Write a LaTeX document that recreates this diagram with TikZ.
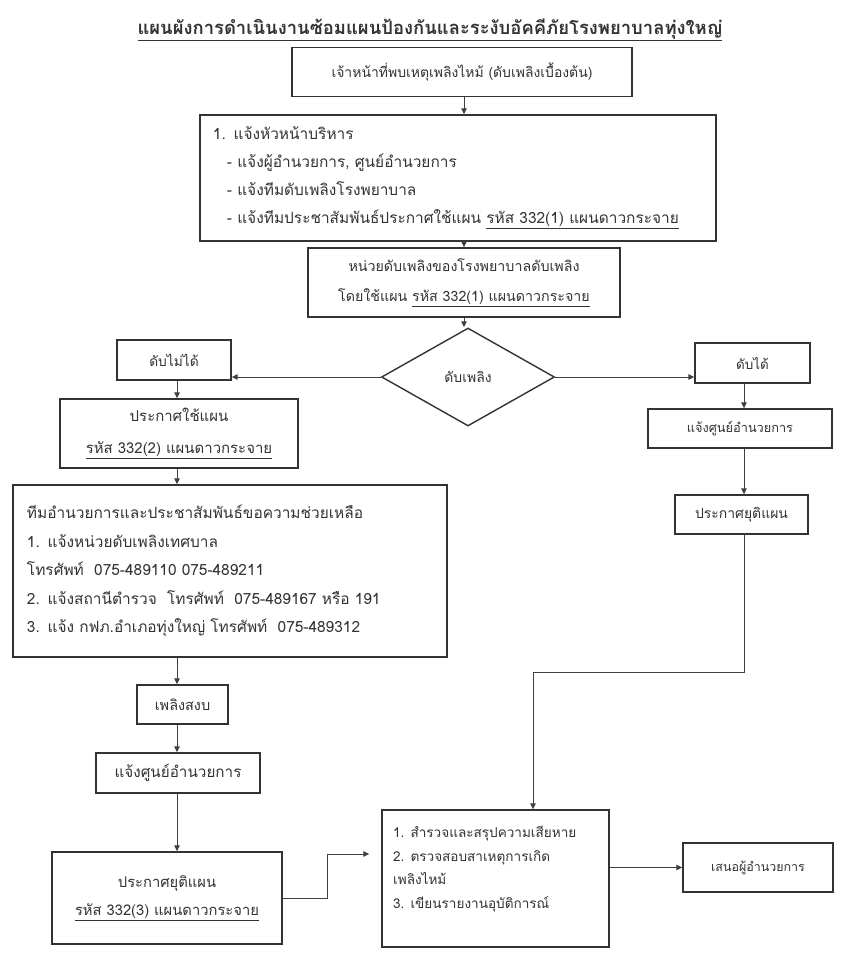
\documentclass[tikz,border=0pt]{standalone}
\usepackage{fontspec}
\newfontfamily\thai[Script=Thai]{Loma}
\usetikzlibrary{arrows.meta,shapes.geometric}
\newcommand{\fs}[2]{\thai\fontsize{#1}{#2}\selectfont}
\begin{document}
\begin{tikzpicture}[x=1bp,y=-1bp,
  box/.style={draw=black!80, line width=1.4bp, inner sep=0pt, text=black!80,
    font=\fs{14}{28}},
  txt/.style={inner sep=0pt, text=black!80},
  arr/.style={draw=black!75, line width=1bp, -{Triangle[width=5.5bp,length=6bp]}},
  ln/.style={draw=black!75, line width=1bp}]
\useasboundingbox (0,0) rectangle (860,963);
\fill[white] (0,0) rectangle (860,963);
\coordinate (cx) at (464,0);
\coordinate (lx) at (177,0);
\coordinate (rx) at (744,0);

\node[txt, font=\thai\bfseries\fontsize{18.5}{22}\selectfont] (title) at (430,30)
  {\underline{แผนผังการดำเนินงานซ้อมแผนป้องกันและระงับอัคคีภัยโรงพยาบาลทุ่งใหญ่}};

\node[box, minimum width=340bp, minimum height=49bp, font=\fs{14}{18}] (b1) at (462,72)
  {เจ้าหน้าที่พบเหตุเพลิงไหม้ (ดับเพลิงเบื้องต้น)};

\node[box, minimum width=516bp, minimum height=126bp, text width=490bp, align=left, font=\fs{15.5}{28}] (b2) at (458,178)
  {\rule{0pt}{6bp}1. แจ้งหัวหน้าบริหาร\\
   \hspace*{14bp}- แจ้งผู้อำนวยการ, ศูนย์อำนวยการ\\
   \hspace*{14bp}- แจ้งทีมดับเพลิงโรงพยาบาล\\
   \hspace*{14bp}- แจ้งทีมประชาสัมพันธ์ประกาศใช้แผน \underline{รหัส 332(1) แผนดาวกระจาย}};

\node[box, minimum width=312bp, minimum height=69bp, align=center, font=\fs{14.3}{30}] (b3) at (464,282.5)
  {หน่วยดับเพลิงของโรงพยาบาลดับเพลิง\\ โดยใช้แผน \underline{รหัส 332(1) แผนดาวกระจาย}};

\node[box, diamond, minimum width=173bp, minimum height=98bp, font=\fs{14}{18}] (dia) at (468,377) {ดับเพลิง};

\node[box, minimum width=114bp, minimum height=40bp, font=\fs{13.8}{18}] (nf) at (174,360) {ดับไม่ได้};
\node[box, minimum width=238bp, minimum height=69bp, align=center, font=\fs{15}{32}] (pu) at (179,433.5)
  {ประกาศใช้แผน\\ \underline{รหัส 332(2) แผนดาวกระจาย}};
\node[box, minimum width=434bp, minimum height=172bp, text width=406bp, align=left, font=\fs{15.5}{28.5}] (big) at (230,571)
  {ทีมอำนวยการและประชาสัมพันธ์ขอความช่วยเหลือ\\
   1. แจ้งหน่วยดับเพลิงเทศบาล\\
   โทรศัพท์~ 075-489110 075-489211\\
   2. แจ้งสถานีตำรวจ~ โทรศัพท์~ 075-489167 หรือ 191\\
   3. แจ้ง กฟภ.อำเภอทุ่งใหญ่ โทรศัพท์~ 075-489312};
\node[box, minimum width=91bp, minimum height=39bp, font=\fs{14.5}{18}] (calm) at (182.5,704.5) {เพลิงสงบ};
\node[box, minimum width=164bp, minimum height=40bp, font=\fs{15.3}{18}] (inf) at (178,773) {แจ้งศูนย์อำนวยการ};
\node[box, minimum width=230bp, minimum height=92bp, align=center, font=\fs{14.8}{28}] (end) at (167,898)
  {ประกาศยุติแผน\\ \underline{รหัส 332(3) แผนดาวกระจาย}};

\node[box, minimum width=115bp, minimum height=40bp, font=\fs{13.5}{18}] (ok) at (752.5,363) {ดับได้};
\node[box, minimum width=184bp, minimum height=39bp, font=\fs{12.8}{18}] (rinf) at (740,428.5) {แจ้งศูนย์อำนวยการ};
\node[box, minimum width=133bp, minimum height=39bp, font=\fs{14}{18}] (rend) at (741.5,514.5) {ประกาศยุติแผน};

\node[box, minimum width=227bp, minimum height=137bp] (sv) at (495.5,878.5) {};
\node[txt, anchor=west, align=left, font=\fs{13.6}{24}] (svt) at (393,869)
  {1. สำรวจและสรุปความเสียหาย\\
   2. ตรวจสอบสาเหตุการเกิด\\
   เพลิงไหม้\\
   3. เขียนรายงานอุบัติการณ์};
\node[box, minimum width=150bp, minimum height=49bp, font=\fs{12.5}{18}] (pres) at (758,867.5) {เสนอผู้อำนวยการ};

\coordinate (bend) at (533,672);
\coordinate (jx) at (327,854);

\draw[arr] (b1.south -| cx) -- (b2.north -| cx);
\draw[arr] (b2.south -| cx) -- (b3.north -| cx);
\draw[arr] (b3.south -| cx) -- (dia.north -| cx);
\draw[arr] (dia.west) -- (dia.west -| nf.east);
\draw[arr] (dia.east) -- (dia.east -| ok.west);
\draw[arr] (nf.south -| lx) -- (pu.north -| lx);
\draw[arr] (pu.south -| lx) -- (big.north -| lx);
\draw[arr] (big.south -| lx) -- (calm.north -| lx);
\draw[arr] (calm.south -| lx) -- (inf.north -| lx);
\draw[arr] (inf.south -| lx) -- (end.north -| lx);
\draw[arr] (ok.south -| rx) -- (rinf.north -| rx);
\draw[arr] (rinf.south -| rx) -- (rend.north -| rx);
\draw[arr] (rend.south -| rx) |- (bend) -- (bend |- sv.north);
\draw[arr, shorten >=12bp] (end.east) -| (jx) -- (jx -| sv.west);
\draw[arr] (sv.east |- pres.west) -- (pres.west);
\end{tikzpicture}
\end{document}
